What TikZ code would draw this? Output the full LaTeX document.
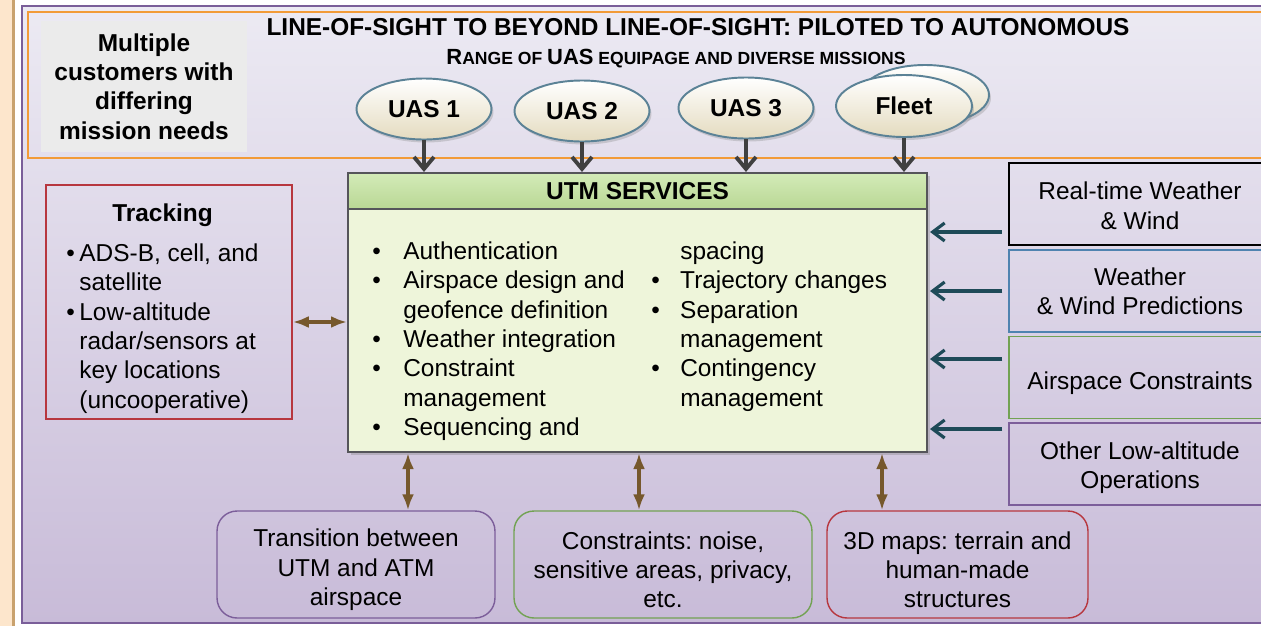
\documentclass[tikz,border=0pt]{standalone}
\usepackage{fontspec}
\setmainfont{Liberation Sans}
\usetikzlibrary{shapes.geometric,arrows.meta,shadows}
\frenchspacing

\definecolor{panelTop}{HTML}{ECEAF3}
\definecolor{panelBot}{HTML}{C8BBD8}
\definecolor{peach}{HTML}{FDE6CC}
\definecolor{tanline}{HTML}{C9A26E}
\definecolor{panelline}{HTML}{7A5E99}
\definecolor{frameorange}{HTML}{F29B38}
\definecolor{greybox}{HTML}{EBEBEB}
\definecolor{ellborder}{HTML}{5B8296}
\definecolor{ellcream}{HTML}{E4DBBF}
\definecolor{utmgreen}{HTML}{B9D794}
\definecolor{utmgreenlight}{HTML}{D3EBB8}
\definecolor{utmbody}{HTML}{EEF5DA}
\definecolor{utmline}{HTML}{55555A}
\definecolor{trackred}{HTML}{B7373F}
\definecolor{predblue}{HTML}{4F83B0}
\definecolor{constrgreen}{HTML}{72A253}
\definecolor{opspurple}{HTML}{7C5E9A}
\definecolor{feedteal}{HTML}{1E4A58}
\definecolor{linkbrown}{HTML}{76582C}
\definecolor{arrowgrey}{HTML}{404040}

\newcommand{\bodysize}{\fontsize{13.9}{16.7}\selectfont}
\newcommand{\scbig}{\fontsize{12.5}{14}\selectfont}
\newcommand{\scsmall}{\fontsize{10}{12}\selectfont}
\newcommand{\toppad}{\rule{0pt}{16pt}}

\begin{document}
\begin{tikzpicture}[x=0.02cm, y=-0.02cm,
    uasell/.style={ellipse, draw=ellborder, line width=1.1pt, top color=white, bottom color=ellcream,
        minimum width=2.7cm, minimum height=1.22cm, inner sep=0pt, font=\bodysize\bfseries,
        drop shadow={opacity=0.3, shadow xshift=0.04cm, shadow yshift=-0.06cm}},
    sidebox/.style={draw, line width=0.8pt, minimum width=5.24cm, minimum height=1.64cm,
        align=center, font=\bodysize},
    lowbox/.style={draw, line width=0.8pt, rounded corners=0.4cm, minimum height=2.14cm,
        align=center, font=\bodysize},
    feed/.style={-{Straight Barb[length=0.24cm, width=0.36cm]}, feedteal, line width=1.8pt},
    link/.style={{Latex[length=0.32cm, width=0.24cm]}-{Latex[length=0.32cm, width=0.24cm]},
        linkbrown, line width=2pt},
    drop/.style={-{Straight Barb[length=0.24cm, width=0.4cm]}, arrowgrey, line width=2.2pt}
]
    % Fondo y marcos
    \useasboundingbox (0,0) rectangle (1261,626);
    \fill[white] (0,0) rectangle (1261,626);
    \fill[peach] (0,0) rectangle (12,626);
    \draw[tanline, line width=1.2pt] (13.5,0) -- (13.5,626);
    \shade[top color=panelTop, bottom color=panelBot] (22,6) rectangle (1280,623);
    \draw[panelline, line width=1.2pt] (1280,6) -- (22,6) -- (22,623) -- (1280,623);
    \draw[frameorange, line width=1.2pt] (28,12) rectangle (1280,158);

    % Cabecera
    \node[fill=greybox, minimum width=4.12cm, minimum height=2.62cm, align=center,
        font=\bodysize\bfseries] (customers) at (144,86.5)
        {Multiple\\customers with\\differing\\mission needs};
    \node[font=\bodysize\bfseries] (title) at (698,27)
        {LINE-OF-SIGHT TO BEYOND LINE-OF-SIGHT: PILOTED TO AUTONOMOUS};
    \node[font=\bfseries] (subtitle) at (676,59)
        {\scbig R\scsmall ANGE OF \scbig UAS\scsmall{} EQUIPAGE AND DIVERSE MISSIONS};

    % Aeronaves
    \node[uasell, minimum width=2.56cm, minimum height=1.2cm] (fleetback) at (925,95) {};
    \node[uasell, minimum width=2.72cm, minimum height=1.24cm] (fleet) at (904,106) {Fleet};
    \node[uasell] (uas1) at (424,109) {UAS 1};
    \node[uasell] (uas2) at (582,111) {UAS 2};
    \node[uasell] (uas3) at (746,108) {UAS 3};

    % Servicios UTM
    \node[draw=utmline, line width=1.2pt, fill=utmbody, minimum width=11.58cm, minimum height=5.58cm,
        inner sep=0pt, drop shadow={opacity=0.35, shadow xshift=0.06cm, shadow yshift=-0.06cm}]
        (utm) at (637.5,312.5) {};
    \node[draw=utmline, line width=1.2pt, top color=utmgreenlight, bottom color=utmgreen,
        minimum width=11.58cm, minimum height=0.72cm, anchor=north, font=\bodysize\bfseries]
        (utmhead) at (utm.north) {UTM SERVICES};
    \node[anchor=north west, inner sep=0pt, font=\bodysize] (services) at (372,238.6) {%
        \begin{tabular}{@{}p{0.62cm}@{}p{4.96cm}@{}p{0.58cm}@{}l@{}}
            \textbullet & Authentication      &             & spacing\\
            \textbullet & Airspace design and & \textbullet & Trajectory changes\\
                        & geofence definition & \textbullet & Separation\\
            \textbullet & Weather integration &             & management\\
            \textbullet & Constraint          & \textbullet & Contingency\\
                        & management          &             & management\\
            \textbullet & Sequencing and      &             &
        \end{tabular}};

    % Seguimiento
    \node[draw=trackred, line width=0.9pt, minimum width=4.92cm, minimum height=4.68cm,
        inner sep=0pt, font=\bodysize] (track) at (169,302) {%
        \begin{tabular}{@{}p{0.26cm}@{}l@{}}
            \multicolumn{2}{c}{\rule{0pt}{19.7pt}\bfseries Tracking}\\[6pt]
            \textbullet & ADS-B, cell, and\\
                        & satellite\\
            \textbullet & Low-altitude\\
                        & radar/sensors at\\
                        & key locations\\
                        & (uncooperative)
        \end{tabular}\hspace{0.26cm}\mbox{}};

    % Entradas de la derecha
    \node[sidebox, draw=black, line width=1.2pt] (rt) at (1140,204) {\rule{0pt}{12pt}Real-time Weather\\\& Wind};
    \node[sidebox, draw=predblue] (wp) at (1140,291) {Weather\\\& Wind Predictions};
    \node[sidebox, draw=constrgreen] (ac) at (1140,377.5) {\toppad Airspace Constraints};
    \node[sidebox, draw=opspurple] (ops) at (1140,464) {\rule{0pt}{14pt}Other Low-altitude\\Operations};

    % Cajas inferiores
    \node[lowbox, draw=opspurple, minimum width=5.56cm] (trans) at (356,564.5)
        {\toppad Transition between\\UTM and ATM\\airspace};
    \node[lowbox, draw=constrgreen, minimum width=5.96cm] (constr) at (663,564.5)
        {\toppad Constraints: noise,\\sensitive areas, privacy,\\etc.};
    \node[lowbox, draw=trackred, minimum width=5.22cm] (maps) at (957.5,564.5)
        {\toppad 3D maps: terrain and\\human-made\\structures};

    % Flechas de aeronaves
    \foreach \u in {uas1, uas2, uas3, fleet}
        \draw[drop] (\u.south) -- (\u.south |- utm.north);

    % Flecha de seguimiento
    \coordinate (trackport) at ([yshift=-0.4cm]track.east);
    \draw[link] (trackport) -- (trackport -| utm.west);

    % Flechas de entrada
    \coordinate (rtport) at ([yshift=-0.56cm]rt.west);
    \coordinate (acport) at ([yshift=0.37cm]ac.west);
    \coordinate (opsport) at ([yshift=0.7cm]ops.west);
    \foreach \p in {rtport, wp.west, acport, opsport}
        \draw[feed, shorten <=0.12cm, shorten >=0.04cm] (\p) -- (\p -| utm.east);

    % Flechas inferiores
    \coordinate (transport) at ([xshift=1.04cm]trans.north);
    \coordinate (constrport) at ([xshift=-0.48cm]constr.north);
    \coordinate (mapsport) at ([xshift=-1.51cm]maps.north);
    \foreach \p in {transport, constrport, mapsport}
        \draw[link] (\p) -- (\p |- utm.south);
\end{tikzpicture}
\end{document}
